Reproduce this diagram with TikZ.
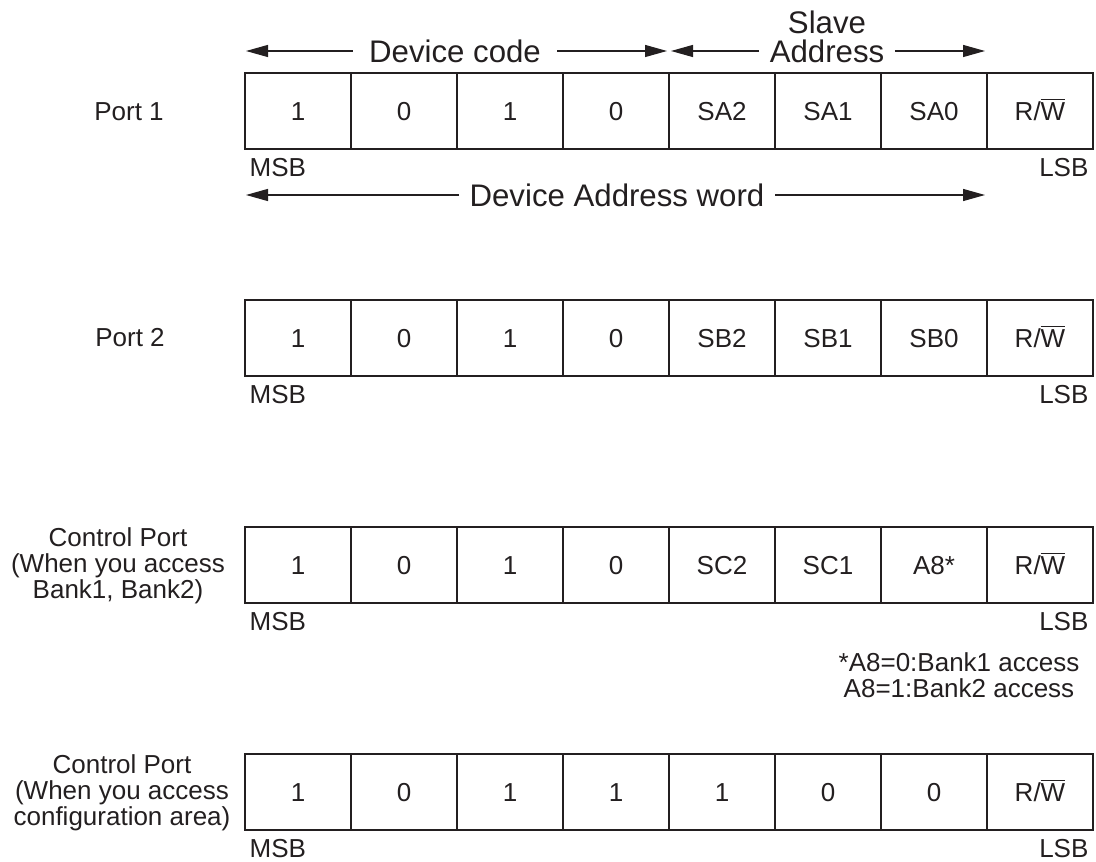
\documentclass[tikz,border=0pt]{standalone}
\usepackage{fontspec}
\setmainfont{Liberation Sans}
\usetikzlibrary{arrows.meta}

\definecolor{ink}{RGB}{35,31,32}
\newcommand{\rwbit}{R/$\overline{\hbox{W}}$}

\tikzstyle{bitcell} = [draw, minimum width=53pt, minimum height=38pt, inner sep=0pt, outer sep=0pt, text height=9.3pt, text depth=0pt]
\tikzstyle{endlbl} = [inner xsep=2pt, inner ysep=0pt]
\tikzstyle{toplbl} = [font=\fontsize{15.6}{16}\selectfont, inner xsep=5pt, inner ysep=0pt]
\tikzstyle{dimline} = [-{Triangle[length=11pt, width=6pt]}]

\begin{document}
\begin{tikzpicture}[x=0.5pt, y=-0.5pt, line width=0.6pt, color=ink, font=\fontsize{13}{13}\selectfont]
		\useasboundingbox (0,0) rectangle (1096,861);
		%\draw[help lines] (0,0) grid[step=100] (1096,861);
		
		\foreach \r/\bits in {1/{1,0,1,0,SA2,SA1,SA0,\rwbit},
			2/{1,0,1,0,SB2,SB1,SB0,\rwbit},
			3/{1,0,1,0,SC2,SC1,A8*,\rwbit},
			4/{1,0,1,1,1,0,0,\rwbit}} {
			\foreach \b [count=\c] in \bits
			\node[bitcell] (b\r-\c) at (192 + 106 * \c, 111 + 227 * \r - 227) {\b};
			\node[endlbl, anchor=west, yshift=-9.5pt] (msb\r) at (b\r-1.south west) {MSB};
			\node[endlbl, anchor=east, yshift=-9.5pt] (lsb\r) at (b\r-8.south east) {LSB};
		}
		
		\node (port1) at (129, 112) {Port 1};
		\node (port2) at (130, 338) {Port 2};
		\node[align=center] (ctrl1) at (118, 566) {Control Port\\(When you access\\Bank1, Bank2)};
		\node[align=center] (ctrl2) at (122, 793) {Control Port\\(When you access\\configuration area)};
		
		\node[align=center] (note) at (959, 675) {*A8=0:Bank1 access\\A8=1:Bank2 access};
		
		\node[toplbl, inner xsep=8pt] (devcode) at (455, 51) {Device code};
		\node[toplbl] (address) at (827, 51) {Address};
		\node[toplbl] (slave) at (827, 22) {Slave};
		\node[toplbl] (devword) at (617, 195) {Device Address word};
		
		\coordinate (code-l) at (246, 51);
		\coordinate (code-r) at (667, 51);
		\coordinate (slave-l) at (671, 51);
		\coordinate (slave-r) at (985, 51);
		\coordinate (word-l) at (246, 195);
		\coordinate (word-r) at (985, 195);
		
		\draw[dimline] (devcode.west) -- (code-l);
		\draw[dimline] (devcode.east) -- (code-r);
		\draw[dimline] (address.west) -- (slave-l);
		\draw[dimline] (address.east) -- (slave-r);
		\draw[dimline] (devword.west) -- (word-l);
		\draw[dimline] (devword.east) -- (word-r);
		
	\end{tikzpicture}
\end{document}
